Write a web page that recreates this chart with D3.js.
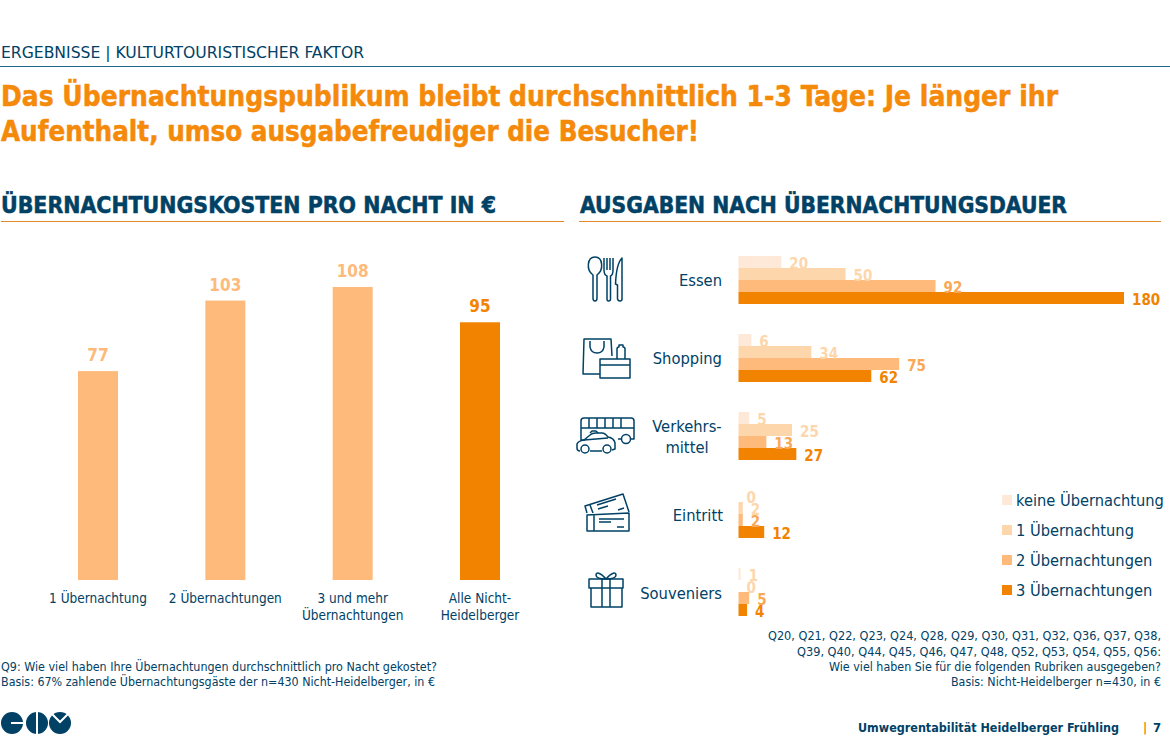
<!DOCTYPE html>
<html>
<head>
<meta charset="utf-8">
<script src="https://cdn.jsdelivr.net/npm/d3@7"></script>
<style>
  html, body { margin: 0; padding: 0; background: #fff; }
  svg { display: block; }
  text { font-family: "DejaVu Sans Condensed", "DejaVu Sans", sans-serif; }
</style>
</head>
<body>
<svg id="chart"></svg>
<script>
// left chart
const stayLabels = [["1 Übernachtung"], ["2 Übernachtungen"], ["3 und mehr", "Übernachtungen"], ["Alle Nicht-", "Heidelberger"]];
const stayKeys = ["1", "2", "3+", "alle"];
const stayCosts = [77, 103, 108, 95];

// right chart
const categories = ["Essen", "Shopping", "Verkehrsmittel", "Eintritt", "Souveniers"];
const seriesNames = ["keine Übernachtung", "1 Übernachtung", "2 Übernachtungen", "3 Übernachtungen"];
const keineValues = [20, 6, 5, 0, 1];
const einsValues = [50, 34, 25, 2, 0];
const zweiValues = [92, 75, 13, 2, 5];
const dreiValues = [180, 62, 27, 12, 4];
const seriesValues = [keineValues, einsValues, zweiValues, dreiValues];

const width = 1170;
const height = 746;
const navy = "#004165";
const orange = "#f28300";
const titleOrange = "#f58a0a";
const seriesColors = ["#fee9d8", "#fed6ac", "#fdba7a", orange];
const labelColors = ["#fed6ac", "#fed6ac", "#f9a858", orange];

const svg = d3.select("#chart")
  .attr("width", width)
  .attr("height", height)
  .attr("viewBox", `0 0 ${width} ${height}`);

// text helper, w = target width in px, heavy = thin outline for the big bold lines
function txt(parent, x, y, str, o = {}) {
  const t = parent.append("text")
    .attr("x", x)
    .attr("y", y)
    .attr("font-size", (o.size || 14) + "px")
    .attr("font-weight", o.weight || "normal")
    .attr("fill", o.fill || navy)
    .attr("text-anchor", o.anchor || "start")
    .text(str);
  if (o.w) t.attr("textLength", o.w).attr("lengthAdjust", "spacingAndGlyphs");
  if (o.heavy) t.attr("stroke", o.fill || navy).attr("stroke-width", 0.5);
  return t;
}

function rule(x1, x2, y, color) {
  svg.append("line")
    .attr("x1", x1).attr("x2", x2).attr("y1", y).attr("y2", y)
    .attr("stroke", color).attr("stroke-width", 1);
}

// ==============================
// HEADER
// ==============================
txt(svg, 1, 58, "ERGEBNISSE | KULTURTOURISTISCHER FAKTOR", { size: 16, w: 363 });
rule(0, 1170, 66.5, "#1f6a8e");
txt(svg, 1, 106, "Das Übernachtungspublikum bleibt durchschnittlich 1-3 Tage: Je länger ihr", { size: 29, weight: "bold", heavy: true, fill: titleOrange, w: 1057 });
txt(svg, 1, 141, "Aufenthalt, umso ausgabefreudiger die Besucher!", { size: 29, weight: "bold", heavy: true, fill: titleOrange, w: 698 });

txt(svg, 1, 213, "ÜBERNACHTUNGSKOSTEN PRO NACHT IN €", { size: 23, weight: "bold", heavy: true, w: 495 });
txt(svg, 580, 213, "AUSGABEN NACH ÜBERNACHTUNGSDAUER", { size: 23, weight: "bold", heavy: true, w: 487 });
rule(1, 564, 221.5, "#e08a2c");
rule(579, 1161, 221.5, "#e08a2c");

// ==============================
// LEFT BARS
// ==============================
const xLeft = d3.scalePoint().domain(stayKeys).range([98, 480]);
const yLeft = d3.scaleLinear().domain([0, 108]).range([580, 287]);
const barWidth = 40;

const leftBars = svg.append("g");
stayKeys.forEach((k, i) => {
  const isAll = k === "alle";
  leftBars.append("rect")
    .attr("x", xLeft(k) - barWidth / 2)
    .attr("y", yLeft(stayCosts[i]))
    .attr("width", barWidth)
    .attr("height", yLeft(0) - yLeft(stayCosts[i]))
    .attr("fill", isAll ? orange : "#fdba7a");
  txt(leftBars, xLeft(k), yLeft(stayCosts[i]) - 10, stayCosts[i], {
    size: 17, weight: "bold", anchor: "middle", fill: isAll ? orange : "#fdba7a"
  });
  stayLabels[i].forEach((line, j) => {
    txt(leftBars, xLeft(k), 603 + j * 17, line, { size: 13.5, anchor: "middle" });
  });
});

// ==============================
// RIGHT BARS
// ==============================
const yGroup = d3.scaleBand().domain(categories).range([256, 616]).paddingInner(30 / 78);
const ySeries = d3.scaleBand().domain(seriesNames).range([0, yGroup.bandwidth()]);
const xRight = d3.scaleLinear().domain([0, 180]).range([738.5, 1124]);

categories.forEach((cat, c) => {
  const g = svg.append("g").attr("transform", `translate(0, ${yGroup(cat)})`);
  seriesNames.forEach((name, s) => {
    const v = seriesValues[s][c];
    g.append("rect")
      .attr("x", xRight(0))
      .attr("y", ySeries(name))
      .attr("width", xRight(v) - xRight(0))
      .attr("height", ySeries.bandwidth())
      .attr("fill", seriesColors[s]);
  });
  seriesNames.forEach((name, s) => {
    const v = seriesValues[s][c];
    txt(g, xRight(v) + 8, ySeries(name) + 12.5, v, { size: 15, weight: "bold", fill: labelColors[s] });
  });
});

// category labels
txt(svg, 722, 286, "Essen", { size: 16.4, anchor: "end" });
txt(svg, 722, 364, "Shopping", { size: 16.4, anchor: "end" });
txt(svg, 687, 432, "Verkehrs-", { size: 16.4, anchor: "middle" });
txt(svg, 687, 453, "mittel", { size: 16.4, anchor: "middle" });
txt(svg, 723, 521, "Eintritt", { size: 16.4, anchor: "end" });
txt(svg, 722, 599, "Souveniers", { size: 16.4, anchor: "end" });

// ==============================
// LEGEND
// ==============================
const yLegend = d3.scalePoint().domain(seriesNames).range([500, 590]);
seriesNames.forEach((name, s) => {
  svg.append("rect")
    .attr("x", 1002)
    .attr("y", yLegend(name) - 5)
    .attr("width", 10)
    .attr("height", 10)
    .attr("fill", seriesColors[s]);
  txt(svg, 1016, yLegend(name) + 6, name, { size: 16.3 });
});

// ==============================
// ICONS
// ==============================
const icons = svg.append("g")
  .attr("fill", "none")
  .attr("stroke", navy)
  .attr("stroke-width", 1.5)
  .attr("stroke-linejoin", "round");

// cutlery
icons.append("path").attr("d", "M593 275 C586 270 587 257 595 257 C603 257 604 270 597 275 L597 298 Q597 301 595 301 Q593 301 593 298 Z");
icons.append("path").attr("d", "M604 258 L604 270 Q604 275 607 276 L607 299 Q607 301 608.5 301 Q610.5 301 610.5 299 L610.5 276 Q613 275 613 270 L613 258 M607 258 L607 270 M610 258 L610 270");
icons.append("path").attr("d", "M622 258 C618 262 616 272 615.5 284 L617.5 285 L617.5 299 Q618 301 620 301 Q622 301 622 299 Z");

// shopping
icons.append("path").attr("d", "M600 374 L583 374 L584 339 L611 339 L612 356");
icons.append("path").attr("d", "M590 341 L590 347 Q591 353 597 353 Q603 353 604 347 L604 341");
icons.append("path").attr("d", "M600 359 L630 359 L630 378 L600 378 Z M600 365 L630 365");
icons.append("path").attr("d", "M617 359 L617 349 Q617 347 619 347 L619 345 L623 345 L623 347 Q625 347 625 349 L625 359");

// bus + car
icons.append("path").attr("d", "M585 440 L581 440 L581 421 Q581 418 584 418 L631 418 Q634 418 634 421 L634 439 L631 439 M581 428 L634 428 M589 418 L589 428 M597 418 L597 428 M605 418 L605 428 M613 418 L613 428 M621 418 L621 428 M621 439 L618 439");
icons.append("circle").attr("cx", 626).attr("cy", 439).attr("r", 4.5);
icons.append("path").attr("d", "M580 451 Q577 451 577 448 L577 444 Q578 441 584 440 L590 435 Q592 433 596 433 L602 433 Q605 433 608 437 Q614 438 615 443 L615 449 L612 450 M602 451 L590 451");
icons.append("path").attr("d", "M590 433 L592 431 L596 431 L598 433 M584 440 L608 438");
icons.append("circle").attr("cx", 585).attr("cy", 449).attr("r", 4);
icons.append("circle").attr("cx", 607).attr("cy", 449).attr("r", 4);

// tickets
icons.append("path").attr("d", "M587 513 L585 506 L623 494 L629 512");
icons.append("path").attr("d", "M590 505 L593 513 M597 505 L616 499 M598 509 L608 506 M618 510 L624 508");
icons.append("path").attr("d", "M587 515 L629 513 L629 531 L587 531 Z M594 515 L594 531");
icons.append("path").attr("d", "M599 519 L624 519 M599 522 L611 522 M617 527 L624 527");

// gift
icons.append("path").attr("d", "M589 579 L623 579 L623 588 L589 588 Z M591 588 L591 607 L622 607 L622 588");
icons.append("path").attr("d", "M602 579 L602 607 M610 579 L610 607");
icons.append("path").attr("d", "M606 579 C600 572 596 572 596 575 C596 578 600 579 606 579 C612 572 616 572 616 575 C616 578 612 579 606 579");

// ==============================
// FOOTNOTES
// ==============================
txt(svg, 1, 671, "Q9: Wie viel haben Ihre Übernachtungen durchschnittlich pro Nacht gekostet?", { size: 12, w: 436 });
txt(svg, 1, 686, "Basis: 67% zahlende Übernachtungsgäste der n=430 Nicht-Heidelberger, in €", { size: 12, w: 434 });

txt(svg, 1161, 640, "Q20, Q21, Q22, Q23, Q24, Q28, Q29, Q30, Q31, Q32, Q36, Q37, Q38,", { size: 12, anchor: "end", w: 393 });
txt(svg, 1161, 656, "Q39, Q40, Q44, Q45, Q46, Q47, Q48, Q52, Q53, Q54, Q55, Q56:", { size: 12, anchor: "end", w: 364 });
txt(svg, 1161, 671, "Wie viel haben Sie für die folgenden Rubriken ausgegeben?", { size: 12, anchor: "end", w: 332 });
txt(svg, 1161, 686, "Basis: Nicht-Heidelberger n=430, in €", { size: 12, anchor: "end", w: 210 });

txt(svg, 858, 732, "Umwegrentabilität Heidelberger Frühling", { size: 13, weight: "bold", w: 261 });
txt(svg, 1143, 732, "|", { size: 13, weight: "bold", fill: orange });
txt(svg, 1153, 732, "7", { size: 13, weight: "bold" });

// logo
const logo = svg.append("g");
logo.append("circle").attr("cx", 12).attr("cy", 723).attr("r", 11).attr("fill", navy);
logo.append("rect").attr("x", 11).attr("y", 722).attr("width", 13).attr("height", 2).attr("fill", "#fff");
logo.append("circle").attr("cx", 37).attr("cy", 723).attr("r", 11).attr("fill", navy);
logo.append("rect").attr("x", 36).attr("y", 711).attr("width", 2).attr("height", 24).attr("fill", "#fff");
logo.append("circle").attr("cx", 60).attr("cy", 723).attr("r", 11).attr("fill", navy);
logo.append("path").attr("d", "M52 714 L60 722 L68 714").attr("fill", "none").attr("stroke", "#fff").attr("stroke-width", 2);
</script>
</body>
</html>
